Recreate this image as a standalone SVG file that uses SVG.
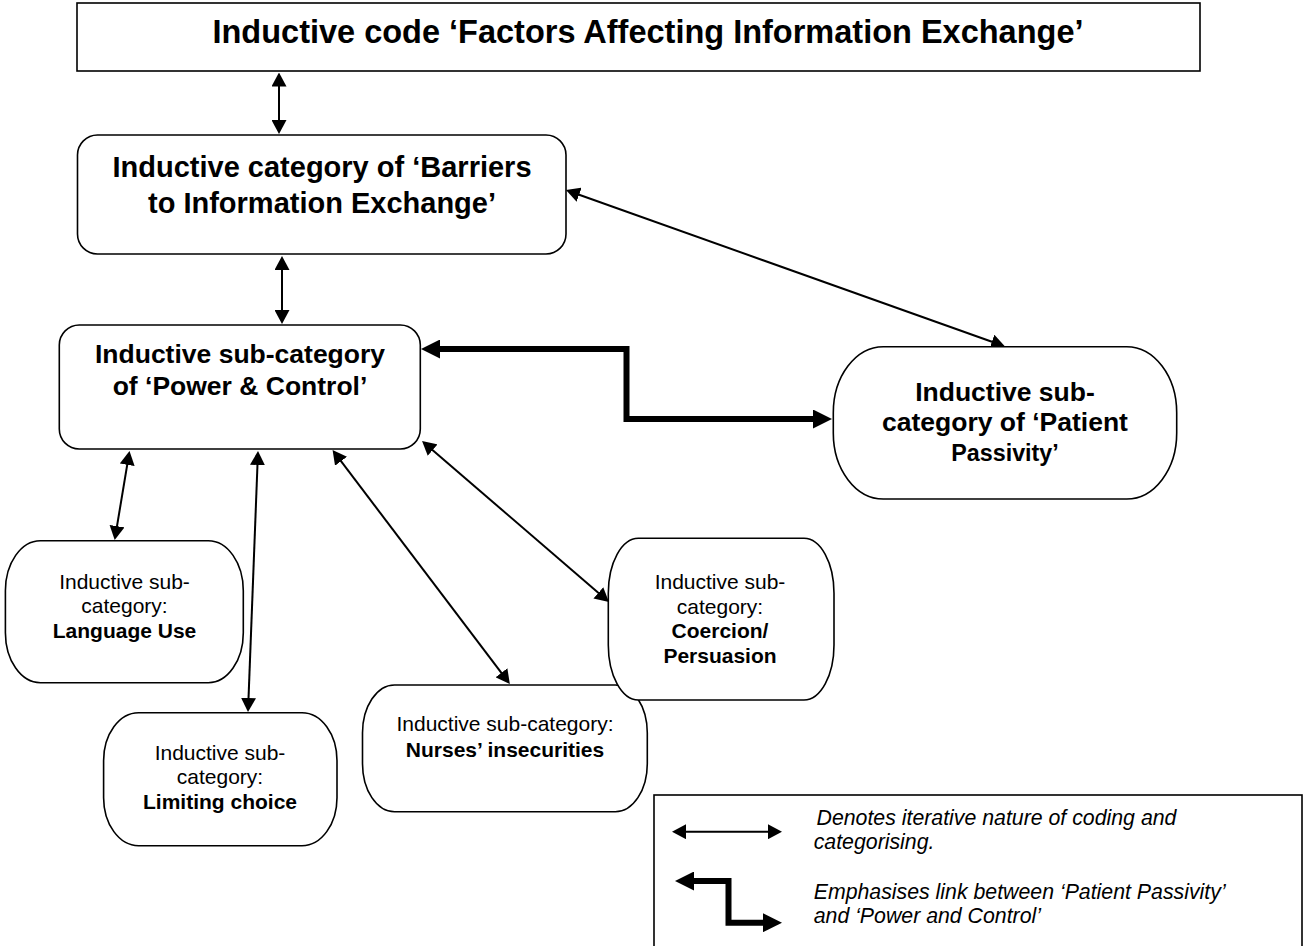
<svg xmlns="http://www.w3.org/2000/svg" width="1303" height="946" viewBox="0 0 1303 946">
<style>
  .box { fill: #fff; stroke: #000; stroke-width: 1.6; }
  .thin { fill: none; stroke: #000; stroke-width: 2; marker-start: url(#ah); marker-end: url(#ah); }
  .thick { fill: none; stroke: #000; stroke-width: 6; stroke-linejoin: miter; marker-start: url(#ahb); marker-end: url(#ahb); }
  text { font-family: "Liberation Sans", Arial, sans-serif; fill: #000; text-anchor: middle; }
  .b { font-weight: bold; }
  .s { font-size: 21px; }
  .lg { font-size: 21.3px; font-style: italic; text-anchor: start; }
</style>
<defs>
  <marker id="ah" markerUnits="userSpaceOnUse" viewBox="0 0 14 15" markerWidth="14" markerHeight="15" refX="6" refY="7.5" orient="auto-start-reverse">
    <path d="M0,0 L14,7.5 L0,15 z" fill="#000"/>
  </marker>
  <marker id="ahb" markerUnits="userSpaceOnUse" viewBox="0 0 19 19" markerWidth="19" markerHeight="19" refX="4" refY="9.5" orient="auto-start-reverse">
    <path d="M0,0 L19,9.5 L0,19 z" fill="#000"/>
  </marker>
</defs>
<rect width="1303" height="946" fill="#fff"/>

<g id="connectors">
  <line class="thin" x1="279" y1="80.5" x2="279" y2="126"/>
  <line class="thin" x1="282" y1="264" x2="282" y2="316"/>
  <line class="thin" x1="573.5" y1="192.7" x2="997.5" y2="343.8"/>
  <line class="thin" x1="128.2" y1="458.9" x2="116" y2="532.1"/>
  <line class="thin" x1="257.7" y1="459" x2="248.3" y2="704"/>
  <line class="thin" x1="337.4" y1="456.4" x2="505" y2="677.6"/>
  <line class="thin" x1="428.1" y1="446.2" x2="602.9" y2="596.8"/>
  <path class="thick" d="M436,349 H626.5 V419 H817"/>
</g>

<g id="node-top">
  <rect class="box" x="77" y="3" width="1123" height="68" stroke-width="2"/>
  <text class="b" x="648" y="43" font-size="32.5">Inductive code ‘Factors Affecting Information Exchange’</text>
</g>

<g id="node-barriers">
  <rect class="box" x="77.5" y="135" width="488.5" height="119" rx="20" ry="20"/>
  <text class="b" font-size="29" x="322" y="177">Inductive category of ‘Barriers</text>
  <text class="b" font-size="29" x="322" y="212.5">to Information Exchange’</text>
</g>

<g id="node-power">
  <rect class="box" x="59.3" y="325" width="361" height="124" rx="20" ry="20"/>
  <text class="b" font-size="26.5" x="240" y="363">Inductive sub-category</text>
  <text class="b" font-size="26.5" x="240" y="395">of ‘Power &amp; Control’</text>
</g>

<g id="node-passivity">
  <rect class="box" x="833.3" y="346.7" width="343.4" height="152.3" rx="50" ry="66"/>
  <text class="b" font-size="26.5" x="1005" y="400.5">Inductive sub-</text>
  <text class="b" font-size="26.5" x="1005" y="430.5">category of ‘Patient</text>
  <text class="b" font-size="23.3" x="1005" y="461">Passivity’</text>
</g>

<g id="node-language">
  <rect class="box" x="5.4" y="540.7" width="237.9" height="142" rx="35" ry="50"/>
  <text class="s" x="124.5" y="588.5">Inductive sub-</text>
  <text class="s" x="124.5" y="613">category:</text>
  <text class="s b" x="124.5" y="638">Language Use</text>
</g>

<g id="node-limiting">
  <rect class="box" x="103.6" y="712.7" width="233.4" height="133" rx="35" ry="48"/>
  <text class="s" x="220" y="760">Inductive sub-</text>
  <text class="s" x="220" y="784">category:</text>
  <text class="s b" x="220" y="808.5">Limiting choice</text>
</g>

<g id="node-nurses">
  <rect class="box" x="362.5" y="685" width="284.8" height="126.7" rx="32" ry="48"/>
  <text class="s" x="505" y="730.5">Inductive sub-category:</text>
  <text class="s b" x="505" y="756.5">Nurses’ insecurities</text>
</g>

<g id="node-coercion">
  <rect class="box" x="608.3" y="538.3" width="225.7" height="161.7" rx="30" ry="55"/>
  <text class="s" x="720" y="589">Inductive sub-</text>
  <text class="s" x="720" y="613.5">category:</text>
  <text class="s b" x="720" y="638">Coercion/</text>
  <text class="s b" x="720" y="662.5">Persuasion</text>
</g>

<g id="legend">
  <rect class="box" x="654" y="795" width="648" height="170"/>
  <line class="thin" x1="680" y1="831.7" x2="774" y2="831.7"/>
  <path class="thick" d="M690,881 H728.5 V922.7 H767"/>
  <text class="lg" x="816.5" y="825">Denotes iterative nature of coding and</text>
  <text class="lg" x="813.7" y="849">categorising.</text>
  <text class="lg" x="813.7" y="898.5">Emphasises link between ‘Patient Passivity’</text>
  <text class="lg" x="813.7" y="923.3">and ‘Power and Control’</text>
</g>
</svg>
